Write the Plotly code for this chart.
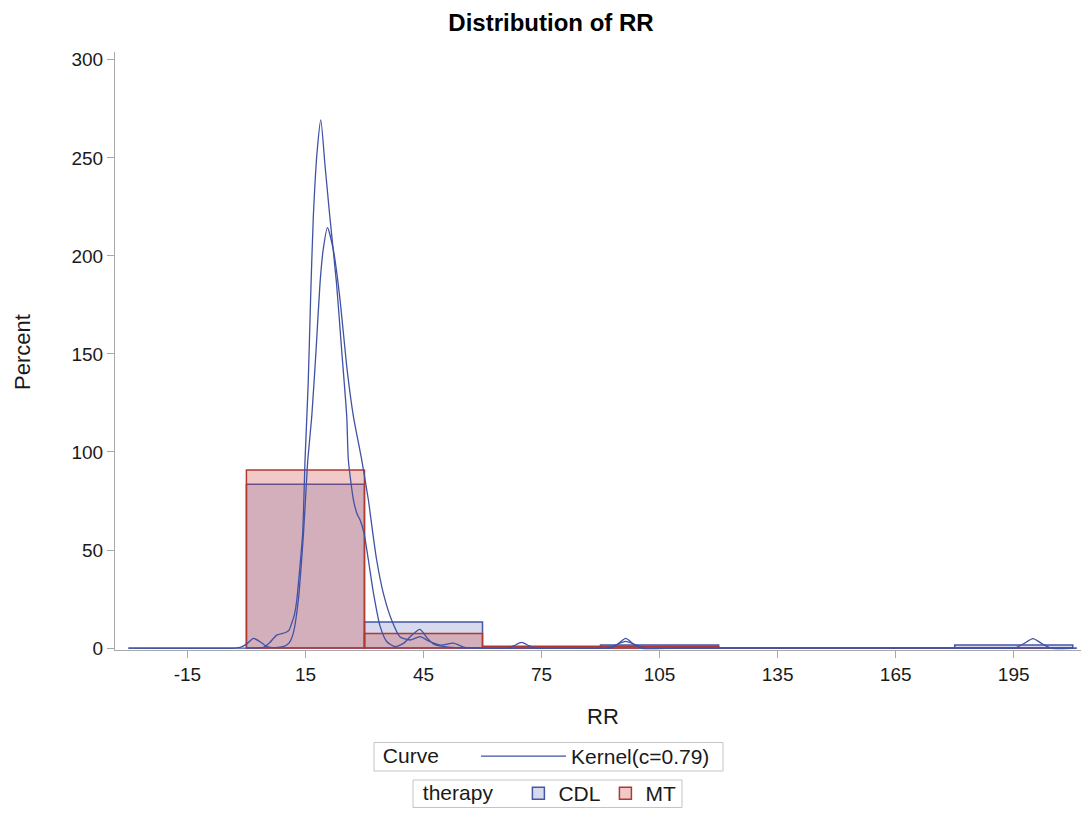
import plotly.graph_objects as go

# ---- data ----
bin_centers = [15, 45, 75, 105, 135, 165, 195]
bin_width = 30
cdl_pct = [83.5, 13.3, 0.0, 1.6, 0.0, 0.0, 1.6]
mt_pct = [90.8, 7.4, 0.9, 0.9, 0.0, 0.0, 0.0]

# kernel curve for MT (taller, narrower)
k_mt_x = [-30, -5, 3, 4.5, 6, 7.7, 9.8, 10.8, 11.5, 12.2, 12.8, 13.6, 14.3, 14.9,
          15.7, 16.3, 17, 18, 18.9, 20, 21.2, 22.9, 24.2, 25.5, 25.9, 27.2, 28.2,
          28.9, 29.9, 31, 32.3, 34, 35.7, 37.8, 40, 42, 44.1, 46, 47.6, 50, 53, 60,
          66.5, 68, 69.9, 71.8, 73.3, 80, 91.5, 93.5, 96.4, 99.3, 101.3, 110, 211]
k_mt_y = [0, 0, 0, 0.5, 3, 6.6, 7.8, 9, 12.6, 17, 24.5, 41.5, 58.5, 96,
          135, 177.6, 220, 254, 269.4, 245.6, 220, 186, 152, 118, 96, 75.5, 68,
          65.3, 58.5, 44.9, 27.9, 10.9, 3.2, 0.7, 2.5, 6.5, 9.5, 5, 2, 0.8, 0.2, 0,
          0, 1.2, 2.9, 1.2, 0, 0, 0, 1.3, 3.4, 1.3, 0, 0, 0]

# kernel curve for CDL (wider)
k_cdl_x = [-30, -3, -1.6, 0, 1.8, 3.5, 5.2, 6.5, 8, 9.5, 10.8, 11.9, 13.2, 13.9,
           14.5, 15.0, 15.6, 16.6, 17.7, 18.7, 19.5, 20.6, 22.1, 23.8, 25.5, 27.2,
           29.3, 31, 31.9, 33.1, 34.8, 36.9, 39, 41.6, 44.1, 46.7, 49.5, 52.6, 55.5,
           60, 90, 92.7, 94.5, 96.4, 98.3, 100.2, 110, 190, 195.3, 197.5, 199.9,
           202.2, 204.4, 211]
k_cdl_y = [0, 0, 0.3, 2, 4.9, 3.2, 0.7, 0.2, 0.3, 0.8, 2.5, 7.5, 24.5, 41.5,
           58.5, 75.5, 96, 118, 152, 186, 203, 214.4, 203, 177.6, 143.5, 118,
           96, 75.5, 61.9, 44.9, 27.9, 14.3, 5.8, 4.1, 5.8, 3.2, 1.5, 2.5, 0.3,
           0, 0, 0, 2.2, 4.9, 2.2, 0, 0, 0, 0, 2.2, 4.8, 2.2, 0, 0]

x_tick_vals = [-15, 15, 45, 75, 105, 135, 165, 195]
x_tick_text = ["-15", "15", "45", "75", "105", "135", "165", "195"]
y_tick_vals = [0, 50, 100, 150, 200, 250, 300]

BLUE = "rgb(69,86,167)"
RED = "rgb(176,58,50)"
KCOL = "rgb(64,82,164)"
FONT = "Arial, Liberation Sans, sans-serif"

fig = go.Figure()
fig.add_trace(go.Bar(
    x=bin_centers, y=cdl_pct, width=bin_width, name="CDL",
    marker=dict(color="rgba(69,86,167,0.22)", line=dict(color=BLUE, width=1.5)),
    legend="legend2", showlegend=True, hoverinfo="skip"))
fig.add_trace(go.Bar(
    x=bin_centers, y=mt_pct, width=bin_width, name="MT",
    marker=dict(color="rgba(205,60,60,0.28)", line=dict(color=RED, width=1.5)),
    legend="legend2", showlegend=True, hoverinfo="skip"))
fig.add_trace(go.Scatter(
    x=k_mt_x, y=k_mt_y, mode="lines", name="Kernel(c=0.79)",
    line=dict(color=KCOL, width=1.3, shape="spline", smoothing=0.6),
    legend="legend", showlegend=True))
fig.add_trace(go.Scatter(
    x=k_cdl_x, y=k_cdl_y, mode="lines", name="Kernel(c=0.79)",
    line=dict(color=KCOL, width=1.3, shape="spline", smoothing=0.6),
    legend="legend", showlegend=False))

W, H = 1083, 815
L, R, T, B = 115, 2, 52, 165
pw, ph = W - L - R, H - T - B

def px_x(p):
    return (p - L) / pw

def px_y(p):
    return (H - B - p) / ph

TXT = "#1a1a1a"
NB = "\u00a0"
BOXC = "#c4c4c4"

legend_boxes = [(374, 742.5, 723, 771), (413, 780, 682, 807.5)]
shapes = [dict(type="rect", xref="paper", yref="paper",
               x0=px_x(a), x1=px_x(c), y0=px_y(b), y1=px_y(d),
               line=dict(color=BOXC, width=1), fillcolor="rgba(0,0,0,0)", layer="below")
          for (a, b, c, d) in legend_boxes]

fig.update_layout(
    width=W, height=H, barmode="overlay",
    margin=dict(l=L, r=R, t=T, b=B, autoexpand=False),
    plot_bgcolor="white", paper_bgcolor="white",
    font=dict(family=FONT, size=19, color=TXT),
    title=dict(text="<b>Distribution of RR</b>", x=551 / W, xref="container",
               xanchor="center", y=1 - 23 / H, yref="container", yanchor="middle",
               font=dict(size=24, color="#000000", family=FONT)),
    xaxis=dict(range=[-33.4, 212.1], tickvals=x_tick_vals, ticktext=x_tick_text,
               showgrid=False, zeroline=False, showline=True, linecolor="#a8a8a8",
               linewidth=1, ticks="outside", ticklen=7, tickcolor="#a8a8a8",
               tickfont=dict(size=19, color=TXT)),
    yaxis=dict(range=[-1, 304], tickvals=y_tick_vals, showgrid=False,
               zeroline=False, showline=True, linecolor="#a8a8a8", linewidth=1,
               ticks="outside", ticklen=7, tickcolor="#a8a8a8",
               tickfont=dict(size=19, color=TXT)),
    legend=dict(orientation="h", xref="container", yref="container",
                x=545 / W, xanchor="center", y=1 - 736 / H, yanchor="top",
                title=dict(text=NB + "Curve" + NB * 5, side="left",
                           font=dict(size=21, color=TXT)),
                font=dict(size=21, color=TXT), borderwidth=0,
                bgcolor="rgba(0,0,0,0)", itemwidth=85),
    legend2=dict(orientation="h", xref="container", yref="container",
                 x=548 / W, xanchor="center", y=1 - 773 / H, yanchor="top",
                 title=dict(text=NB + "therapy" + NB * 3, side="left",
                            font=dict(size=21, color=TXT)),
                 font=dict(size=21, color=TXT), borderwidth=0,
                 bgcolor="rgba(0,0,0,0)"),
    shapes=shapes,
    annotations=[
        dict(text="RR", x=px_x(603), y=px_y(716), xref="paper", yref="paper",
             showarrow=False, font=dict(size=22, color=TXT),
             xanchor="center", yanchor="middle"),
        dict(text="Percent", x=px_x(22), y=px_y(352), xref="paper", yref="paper",
             showarrow=False, textangle=-90, font=dict(size=22, color=TXT),
             xanchor="center", yanchor="middle"),
    ],
)

fig.write_html("out.html", config={"displayModeBar": False},
               post_script="document.body.style.margin='0';document.body.style.overflow='hidden';")
